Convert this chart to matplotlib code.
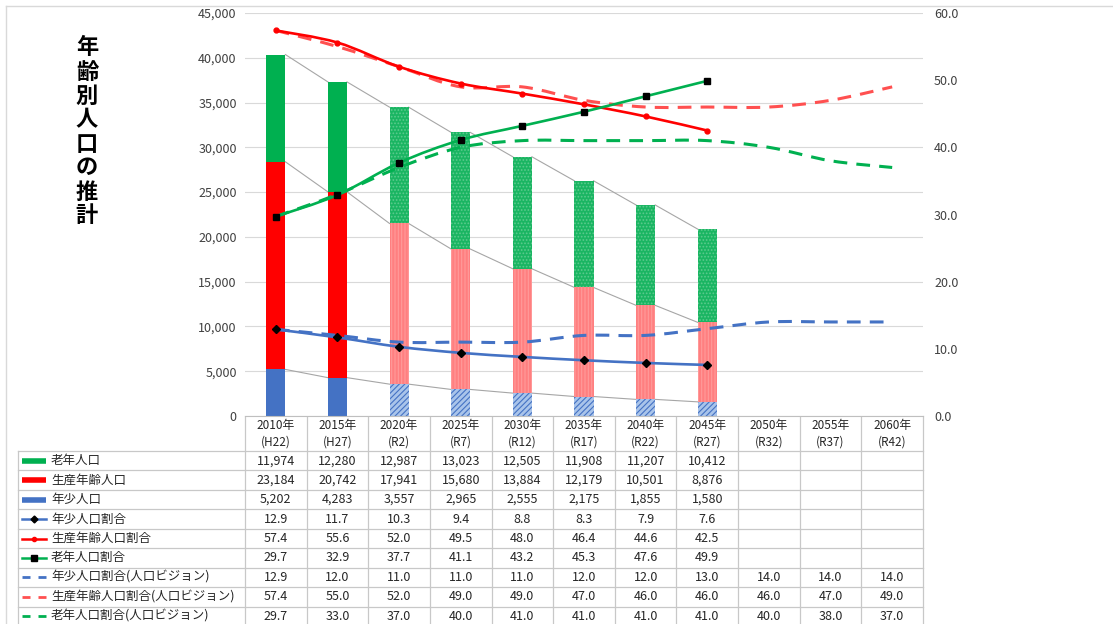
import matplotlib
matplotlib.use("Agg")
from matplotlib import pyplot as plt
from matplotlib.path import Path
from matplotlib.patches import PathPatch
from matplotlib.lines import Line2D
import numpy as np

plt.rcParams['font.family'] = ['Noto Sans CJK JP', 'DejaVu Sans']
plt.rcParams['hatch.linewidth'] = 0.8

# --- data ---
years = ['2010年', '2015年', '2020年', '2025年', '2030年', '2035年',
         '2040年', '2045年', '2050年', '2055年', '2060年']
eras = ['(H22)', '(H27)', '(R2)', '(R7)', '(R12)', '(R17)',
        '(R22)', '(R27)', '(R32)', '(R37)', '(R42)']

elderly = [11974, 12280, 12987, 13023, 12505, 11908, 11207, 10412]
working = [23184, 20742, 17941, 15680, 13884, 12179, 10501, 8876]
young = [5202, 4283, 3557, 2965, 2555, 2175, 1855, 1580]

young_ratio = [12.9, 11.7, 10.3, 9.4, 8.8, 8.3, 7.9, 7.6]
working_ratio = [57.4, 55.6, 52.0, 49.5, 48.0, 46.4, 44.6, 42.5]
elderly_ratio = [29.7, 32.9, 37.7, 41.1, 43.2, 45.3, 47.6, 49.9]

young_vision = [12.9, 12.0, 11.0, 11.0, 11.0, 12.0, 12.0, 13.0, 14.0, 14.0, 14.0]
working_vision = [57.4, 55.0, 52.0, 49.0, 49.0, 47.0, 46.0, 46.0, 46.0, 47.0, 49.0]
elderly_vision = [29.7, 33.0, 37.0, 40.0, 41.0, 41.0, 41.0, 41.0, 40.0, 38.0, 37.0]

n_actual = 2  # 2010, 2015 are actual figures, the rest projections

GREEN, RED, BLUE = '#00B050', '#FF0000', '#4472C4'


def smooth_path(xs, ys):
    # Excel-like smoothed line through the points (cubic bezier segments)
    pts = np.column_stack([xs, ys]).astype(float)
    n = len(pts)
    verts = [pts[0]]
    codes = [Path.MOVETO]
    for i in range(n - 1):
        p0 = pts[max(i - 1, 0)]
        p1 = pts[i]
        p2 = pts[i + 1]
        p3 = pts[min(i + 2, n - 1)]
        verts += [p1 + (p2 - p0) / 6, p2 - (p3 - p1) / 6, p2]
        codes += [Path.CURVE4] * 3
    return Path(verts, codes)


W, H = 1113, 624
fig = plt.figure(figsize=(W / 100, H / 100), dpi=100)

plot_l, plot_r, plot_t, plot_b = 245, 923, 13, 416
ax = fig.add_axes([plot_l / W, 1 - plot_b / H, (plot_r - plot_l) / W, (plot_b - plot_t) / H])
ax2 = ax.twinx()

x = np.arange(len(years))
bw = 0.31

# stacked bars
for i in range(len(young)):
    if i < n_actual:
        styles = [dict(color=BLUE), dict(color=RED), dict(color=GREEN)]
    else:
        styles = [dict(facecolor='#A9C4EA', edgecolor='#4472C4', hatch='//////'),
                  dict(facecolor='#FF7F80', edgecolor='#FF9A9A', hatch='|||||'),
                  dict(facecolor='#1AB562', edgecolor='#5CCB8E', hatch='.....')]
    bottom = 0
    for val, st in zip([young[i], working[i], elderly[i]], styles):
        ax.bar(x[i], val, bw, bottom=bottom, linewidth=0, zorder=2, **st)
        bottom += val

# series connector lines between stacks
cum_y = np.array(young)
cum_w = cum_y + np.array(working)
cum_e = cum_w + np.array(elderly)
for cum in (cum_y, cum_w, cum_e):
    for i in range(len(cum) - 1):
        ax.plot([x[i] + bw / 2, x[i + 1] - bw / 2], [cum[i], cum[i + 1]],
                color='#A6A6A6', lw=0.8, zorder=1.5)

ax.set_xlim(-0.5, len(years) - 0.5)
ax.set_ylim(0, 45000)
ax.set_yticks(range(0, 45001, 5000))
ax.set_yticklabels([f'{v:,}' for v in range(0, 45001, 5000)])
ax.yaxis.grid(True, color='#D9D9D9', lw=0.8)
ax.set_axisbelow(True)
ax.set_xticks([])
ax.tick_params(axis='y', length=0, pad=6, labelsize=9, labelcolor='#404040')
for s in ['left', 'right', 'top']:
    ax.spines[s].set_visible(False)
ax.spines['bottom'].set_color('#BFBFBF')

# ratio lines on secondary axis
dash = (0, (4.5, 3))
for vals, col in [(young_vision, BLUE), (working_vision, '#FF5050'), (elderly_vision, GREEN)]:
    ax2.add_patch(PathPatch(smooth_path(x[:len(vals)], vals), fill=False, edgecolor=col,
                            lw=2.2, linestyle=dash, capstyle='butt', zorder=3))
for vals, col in [(young_ratio, BLUE), (working_ratio, RED), (elderly_ratio, GREEN)]:
    ax2.add_patch(PathPatch(smooth_path(x[:len(vals)], vals), fill=False, edgecolor=col,
                            lw=1.9, zorder=4))
ax2.plot(x[:len(young_ratio)], young_ratio, ls='none', marker='D', ms=4.5, color='black', zorder=5)
ax2.plot(x[:len(working_ratio)], working_ratio, ls='none', marker='o', ms=3.5, color=RED, zorder=5)
ax2.plot(x[:len(elderly_ratio)], elderly_ratio, ls='none', marker='s', ms=5, color='black', zorder=5)

ax2.set_ylim(0, 60)
ax2.set_yticks(range(0, 61, 10))
ax2.set_yticklabels([f'{v:.1f}' for v in range(0, 61, 10)])
ax2.tick_params(axis='y', length=0, pad=8, labelsize=9, labelcolor='#404040')
for s in ax2.spines.values():
    s.set_visible(False)

# title, one character per line
title = '年齢別人口の推計'
for k, ch in enumerate(title):
    fig.text(87 / W, 1 - (48 + 24 * k) / H, ch, ha='center', va='center',
             fontsize=16, fontweight='bold', color='black')

# --- data table below the plot ---
tb = fig.add_axes([0, 0, 1, 1], zorder=-1)
tb.set_xlim(0, W)
tb.set_ylim(H, 0)
tb.axis('off')

col_w = (plot_r - plot_l) / len(years)
header_b = 451
row_h = 19.45
row_edges = [header_b + row_h * k for k in range(10)]
line_c = '#C8C8C8'

# outer chart frame
tb.plot([6, 6], [6, H], color='#D9D9D9', lw=1)
tb.plot([6, W], [6, 6], color='#D9D9D9', lw=1)

for k in range(len(years) + 1):
    xe = plot_l + k * col_w
    tb.plot([xe, xe], [plot_b, H], color=line_c, lw=0.9)
tb.plot([18, 18], [header_b, H], color=line_c, lw=0.9)
for ye in row_edges:
    tb.plot([18, plot_r], [ye, ye], color=line_c, lw=0.9)

for k, (yr, er) in enumerate(zip(years, eras)):
    cx = plot_l + (k + 0.5) * col_w
    tb.text(cx, 426, yr, ha='center', va='center', fontsize=8.5, color='#262626')
    tb.text(cx, 442, er, ha='center', va='center', fontsize=8.5, color='#262626')

rows = [
    ('老年人口', [f'{v:,}' for v in elderly], dict(kind='bar', color=GREEN)),
    ('生産年齢人口', [f'{v:,}' for v in working], dict(kind='bar', color=RED)),
    ('年少人口', [f'{v:,}' for v in young], dict(kind='bar', color=BLUE)),
    ('年少人口割合', [f'{v:.1f}' for v in young_ratio], dict(kind='line', color=BLUE, marker='D', mc='black', ms=3.5)),
    ('生産年齢人口割合', [f'{v:.1f}' for v in working_ratio], dict(kind='line', color=RED, marker='o', mc=RED, ms=3)),
    ('老年人口割合', [f'{v:.1f}' for v in elderly_ratio], dict(kind='line', color=GREEN, marker='s', mc='black', ms=4)),
    ('年少人口割合(人口ビジョン)', [f'{v:.1f}' for v in young_vision], dict(kind='dash', color=BLUE)),
    ('生産年齢人口割合(人口ビジョン)', [f'{v:.1f}' for v in working_vision], dict(kind='dash', color='#FF5050')),
    ('老年人口割合(人口ビジョン)', [f'{v:.1f}' for v in elderly_vision], dict(kind='dash', color=GREEN)),
]

for r, (label, vals, key) in enumerate(rows):
    cy = row_edges[r] + row_h / 2
    if key['kind'] == 'bar':
        tb.plot([22, 46], [cy, cy], color=key['color'], lw=4, solid_capstyle='butt')
    elif key['kind'] == 'line':
        tb.add_line(Line2D([22, 46], [cy, cy], color=key['color'], lw=1.8))
        tb.plot([34], [cy], marker=key['marker'], ms=key['ms'], color=key['mc'])
    else:
        tb.plot([22, 30], [cy, cy], color=key['color'], lw=2, solid_capstyle='butt')
        tb.plot([38, 46], [cy, cy], color=key['color'], lw=2, solid_capstyle='butt')
    tb.text(51, cy, label, ha='left', va='center', fontsize=9, color='#262626')
    for k, v in enumerate(vals):
        cx = plot_l + (k + 0.5) * col_w
        tb.text(cx, cy, v, ha='center', va='center', fontsize=9, color='#262626')

fig.savefig('out.png', dpi=100)
